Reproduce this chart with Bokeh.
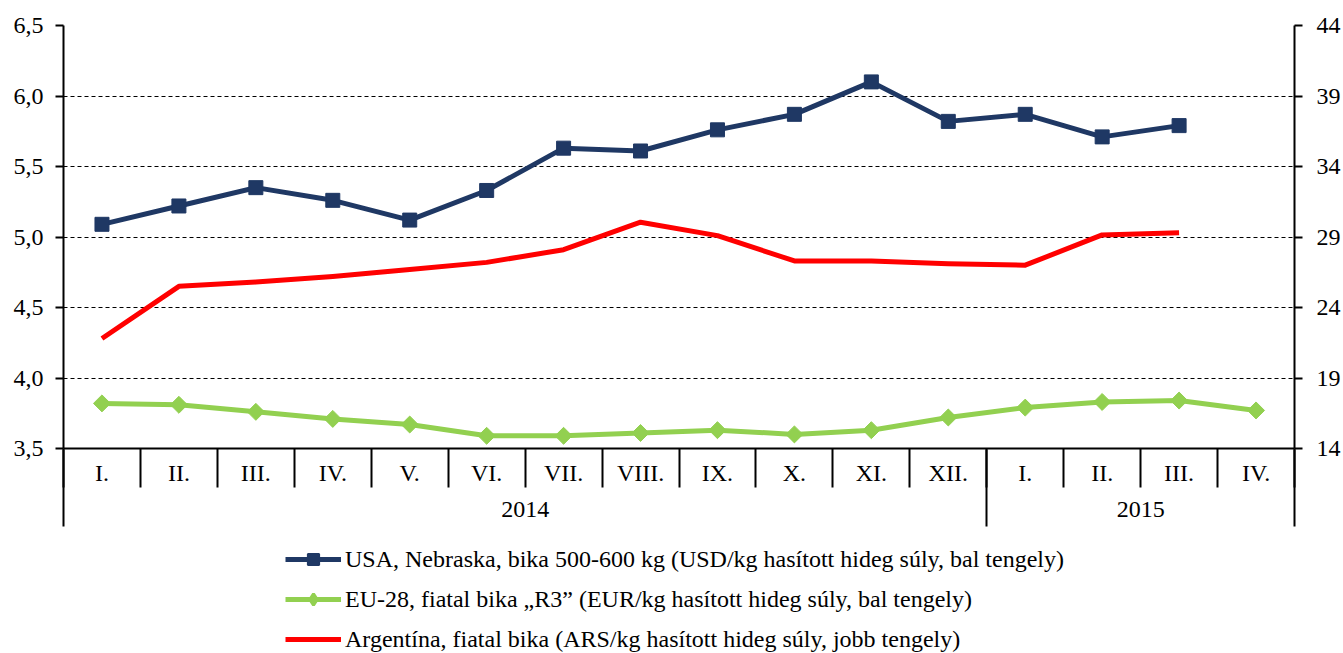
import math
from bokeh.plotting import figure
from bokeh.layouts import column
from bokeh.models import (Range1d, LinearAxis, FixedTicker, CustomJSTickFormatter,
                          Grid, Legend, LegendItem)
from bokeh.embed import file_html
from bokeh.resources import INLINE

# ---- data ----
months = ["I.", "II.", "III.", "IV.", "V.", "VI.", "VII.", "VIII.", "IX.", "X.", "XI.", "XII.",
          "I.", "II.", "III.", "IV."]
years = ["2014", "2015"]
year_sizes = [12, 4]

usa = [5.09, 5.22, 5.35, 5.26, 5.12, 5.33, 5.63, 5.61, 5.76, 5.87, 6.10, 5.82, 5.87, 5.71, 5.79]
eu = [3.82, 3.81, 3.76, 3.71, 3.67, 3.59, 3.59, 3.61, 3.63, 3.60, 3.63, 3.72, 3.79, 3.83, 3.84, 3.77]
arg = [21.8, 25.5, 25.8, 26.2, 26.7, 27.2, 28.1, 30.05, 29.1, 27.3, 27.3, 27.1, 27.0, 29.15, 29.3]

left_ticks = [3.5, 4.0, 4.5, 5.0, 5.5, 6.0, 6.5]
right_ticks = [14, 19, 24, 29, 34, 39, 44]

labels = ["USA, Nebraska, bika 500-600 kg (USD/kg hasított hideg súly, bal tengely)",
          "EU-28, fiatal bika \u201eR3\u201d (EUR/kg hasított hideg súly, bal tengely)",
          "Argentína, fiatal bika (ARS/kg hasított hideg súly, jobb tengely)"]

NAVY = "#1F3864"
GREEN = "#92D050"
RED = "#FF0000"
FONT = "Liberation Serif, Times New Roman, Tinos, DejaVu Serif, serif"
FS = "24px"

x_all = [i + 0.5 for i in range(len(months))]

p = figure(width=1343, height=530, output_backend="svg", toolbar_location=None,
           x_range=Range1d(0, len(months)), y_range=Range1d(left_ticks[0], left_ticks[-1]),
           x_axis_type=None, y_axis_type=None,
           min_border_left=63, min_border_right=48, min_border_top=25, min_border_bottom=82)
p.outline_line_color = None
p.background_fill_color = "white"
p.border_fill_color = "white"
p.extra_y_ranges = {"right": Range1d(right_ticks[0], right_ticks[-1])}

# grid
grid = Grid(dimension=1, ticker=FixedTicker(ticks=left_ticks[1:]),
            grid_line_color="black", grid_line_width=1, grid_line_dash="4 3")
p.add_layout(grid)

# left axis
yl = LinearAxis(ticker=FixedTicker(ticks=left_ticks),
                formatter=CustomJSTickFormatter(code="return tick.toFixed(1).replace('.', ',')"))
# right axis
yr = LinearAxis(y_range_name="right", ticker=FixedTicker(ticks=right_ticks))
for ax in (yl, yr):
    ax.axis_line_width = 2
    ax.axis_line_color = "black"
    ax.major_tick_line_width = 2
    ax.major_tick_in = 0
    ax.major_tick_out = 8
    ax.minor_tick_line_color = None
    ax.major_label_text_font = FONT
    ax.major_label_text_font_size = FS
    ax.major_label_text_color = "black"
yl.major_label_standoff = 12
yr.major_label_standoff = 14
p.add_layout(yl, "left")
p.add_layout(yr, "right")

# month axis
xa = LinearAxis(ticker=FixedTicker(ticks=x_all, minor_ticks=list(range(len(months) + 1))),
                formatter=CustomJSTickFormatter(args=dict(lab=months),
                                                code="return lab[Math.floor(tick)] || ''"))
xa.axis_line_width = 2
xa.axis_line_color = "black"
xa.major_tick_line_color = None
xa.major_tick_in = 0
xa.major_tick_out = 0
xa.minor_tick_in = 0
xa.minor_tick_out = 39
xa.minor_tick_line_width = 2
xa.minor_tick_line_color = "black"
xa.major_label_standoff = -28
xa.major_label_text_font = FONT
xa.major_label_text_font_size = FS
xa.major_label_text_color = "black"
p.add_layout(xa, "below")

# year axis
bounds = [0]
for s in year_sizes:
    bounds.append(bounds[-1] + s)
centers = [(bounds[i] + bounds[i + 1]) / 2 for i in range(len(years))]
ya = LinearAxis(ticker=FixedTicker(ticks=centers, minor_ticks=bounds),
                formatter=CustomJSTickFormatter(args=dict(c=centers, y=years),
                                                code="const i = c.indexOf(tick); return i >= 0 ? y[i] : ''"))
ya.axis_line_color = None
ya.major_tick_line_color = None
ya.major_tick_in = 0
ya.major_tick_out = 0
ya.minor_tick_in = 39
ya.minor_tick_out = 38
ya.minor_tick_line_width = 2
ya.minor_tick_line_color = "black"
ya.major_label_standoff = -25
ya.major_label_text_font = FONT
ya.major_label_text_font_size = FS
ya.major_label_text_color = "black"
p.add_layout(ya, "below")

# series
line_styles = [dict(line_color=NAVY, line_width=5), dict(line_color=GREEN, line_width=5),
               dict(line_color=RED, line_width=5)]
p.line(x_all[:len(arg)], arg, y_range_name="right", line_join="round", **line_styles[2])
p.line(x_all[:len(eu)], eu, line_join="round", **line_styles[1])
p.scatter(x_all[:len(eu)], eu, marker="square", angle=math.pi / 4, size=12,
          fill_color=GREEN, line_color=GREEN)
p.line(x_all[:len(usa)], usa, line_join="round", **line_styles[0])
p.scatter(x_all[:len(usa)], usa, marker="square", size=14, fill_color=NAVY, line_color=NAVY)

# legend figure (below the chart); its renderers hold the series but lie outside its ranges
q = figure(width=1343, height=123, output_backend="svg", toolbar_location=None,
           x_axis_type=None, y_axis_type=None, min_border=0,
           x_range=Range1d(-2, -1), y_range=Range1d(-2, -1))
q.outline_line_color = None
q.background_fill_color = "white"
q.border_fill_color = "white"
lu = q.line(x_all[:len(usa)], usa, line_join="round", **line_styles[0])
mu = q.scatter(x_all[:len(usa)], usa, marker="square", fill_color=NAVY, line_color=NAVY,
               line_width=2)
le = q.line(x_all[:len(eu)], eu, line_join="round", **line_styles[1])
me = q.scatter(x_all[:len(eu)], eu, marker="diamond", fill_color=GREEN, line_color=GREEN,
               line_width=3)
la = q.line(x_all[:len(arg)], arg, line_join="round", **line_styles[2])

legend = Legend(items=[LegendItem(label=labels[0], renderers=[lu, mu]),
                       LegendItem(label=labels[1], renderers=[le, me]),
                       LegendItem(label=labels[2], renderers=[la])],
                location=(222, 0), orientation="vertical",
                glyph_width=56, glyph_height=28, label_height=28, spacing=12,
                label_standoff=4, padding=0, margin=0,
                border_line_color=None, background_fill_alpha=0,
                label_text_font=FONT, label_text_font_size=FS, label_text_color="black")
q.add_layout(legend, "center")

layout = column(p, q, spacing=0)
open("out.html", "w").write(file_html(layout, INLINE))
